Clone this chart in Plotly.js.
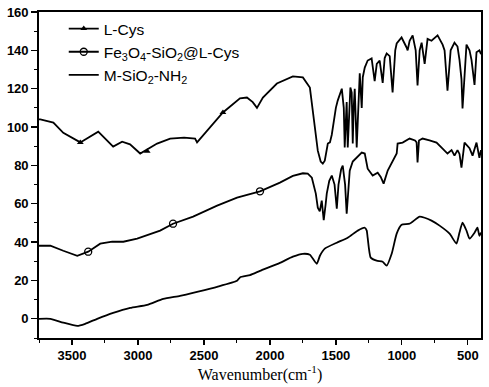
<!DOCTYPE html>
<html>
<head>
<meta charset="utf-8">
<script src="https://cdn.plot.ly/plotly-3.0.1.min.js"></script>
<style>html,body{margin:0;padding:0;background:#fff}#chart{width:489px;height:387px}</style>
</head>
<body>
<div id="chart"></div>
<script>
// ---- data ----
var lcysWn = [3750,3740,3641,3566,3437,3301,3188,3120,3060,2983,2855,2756,2650,2567,2552,2507,2356,2227,2174,2130,2098,2053,1947,1826,1750,1697,1675,1652,1637,1615,1599,1584,1561,1545,1531,1500,1486,1455,1440,1433,1425,1418,1410,1402,1390,1380,1372,1365,1357,1342,1330,1319,1304,1296,1281,1259,1229,1206,1190,1168,1145,1130,1115,1092,1070,1050,1039,1002,964,956,941,918,895,881,865,850,827,805,775,729,691,676,654,630,601,578,563,548,540,525,510,487,472,449,434,412,400];
var lcysT  = [104,104,102.3,97,92,97.6,89.8,92.4,91,86.2,91.4,94,94.5,94,92,95.6,107.6,115,115.4,113,110,115.4,122.7,126.4,125.9,120.6,108.6,95,87.7,82,80.9,82.5,91.4,92,96,110,113.8,120,110,89.3,105,113,89.3,105,120.6,118,91.4,110,120,89.3,115,128,110,126,131,134.7,135.8,124,133,134.7,123,136,138.4,137,118,140,143.6,146.7,141.5,140,145,147.8,140,121.7,140,144,133,146,145,147.8,143,140,119,140,144,142,135,125,109.7,130,143,140,135,122,139,140,138];

var feWn = [3750,3664,3566,3460,3377,3286,3195,3111,3006,2923,2832,2734,2582,2400,2249,2166,2075,1924,1826,1750,1713,1682,1652,1637,1622,1607,1592,1577,1569,1550,1531,1510,1493,1480,1460,1448,1430,1418,1405,1395,1372,1342,1304,1281,1259,1221,1183,1160,1138,1107,1070,1039,1032,994,941,900,888,881,870,843,790,737,691,654,623,601,578,563,548,525,487,464,434,412,400];
var feT  = [38.1,38.1,35.5,32.9,35,39.2,40.2,40.2,41.8,43.9,46,49.6,53.3,59,63.2,64.8,66.5,71,74.5,75.9,75.7,73.6,65.3,58,56,61.6,51.5,60,65.3,72,74.7,70,57.4,70,78,79.9,70,54.8,70,77.3,82,84.1,86.7,86.2,78.3,74.7,76.2,74,70.5,77.3,82.5,86.2,91.4,91.9,94,93,92,81.5,93,94,93,91.9,88.8,86.2,88,85.1,88,86,78.9,91.9,89,85.1,91.9,84,88];

var msWn = [3750,3664,3566,3460,3400,3309,3188,3059,2930,2808,2681,2552,2400,2249,2227,2151,2075,1924,1826,1750,1697,1645,1620,1584,1493,1410,1334,1281,1266,1259,1236,1191,1145,1115,1077,1039,1002,941,865,827,775,714,638,586,563,540,510,487,449,427,412,400];
var msT  = [0,0,-2,-3.7,-2.6,0,3.1,5.7,7.3,10.4,12,14.1,16.7,19.8,21.6,22.8,25,29.2,32.4,33.9,33.4,28.7,33,36.6,39.7,42.3,46,47.5,46,42.3,31.9,30.3,29.8,27.7,33.9,44.4,49,49.6,53.3,52.7,51.2,48.6,44.4,39.2,45,50.1,46,41.8,44.9,47.5,43.3,45];

// symbol positions along the curves
var lcysMarkWn = [3437,2930,2356];
var lcysMarkT  = [92,87.4,107.6];
var feMarkWn = [3377,2734,2075];
var feMarkT  = [35,49.6,66.5];

var seriesNames = ['L-Cys','Fe<sub>3</sub>O<sub>4</sub>-SiO<sub>2</sub>@L-Cys','M-SiO<sub>2</sub>-NH<sub>2</sub>'];
var xTickVals = [3500,3000,2500,2000,1500,1000,500];
var yTickVals = [0,20,40,60,80,100,120,140,160];

function bold(a){return a.map(function(v){return '<b>'+v+'</b>';});}
// interleave nulls so the marker trace draws no connecting lines
function gapped(a){var out=[];a.forEach(function(v,i){if(i)out.push(null);out.push(v);});return out;}

var lineStyle = {color:'#000', width:1.8};
var traces = [
  {x:lcysWn, y:lcysT, mode:'lines', line:lineStyle, showlegend:false, hoverinfo:'skip'},
  {x:gapped(lcysMarkWn), y:gapped(lcysMarkT), mode:'lines+markers', name:seriesNames[0], line:lineStyle,
   marker:{symbol:'triangle-up', size:6, color:'#000'}},
  {x:feWn, y:feT, mode:'lines', line:lineStyle, showlegend:false, hoverinfo:'skip'},
  {x:gapped(feMarkWn), y:gapped(feMarkT), mode:'lines+markers', name:seriesNames[1], line:lineStyle,
   marker:{symbol:'circle-open', size:7, color:'#000', line:{width:1.3,color:'#000'}}},
  {x:msWn, y:msT, mode:'lines', name:seriesNames[2], line:{color:'#000', width:1.8, shape:'spline', smoothing:0.5}}
];

var tickFont = {family:'Liberation Sans, Arial, sans-serif', size:13, color:'#000'};
var layout = {
  width:489, height:387,
  margin:{l:39, r:8, t:12, b:49},
  paper_bgcolor:'#fff', plot_bgcolor:'#fff',
  showlegend:true,
  legend:{x:0.056, y:1.0, xanchor:'left', yanchor:'top', bgcolor:'rgba(0,0,0,0)',
          font:{family:'Liberation Sans, Arial, sans-serif', size:15.5, color:'#000'}, tracegroupgap:0},
  xaxis:{range:[3750,400], autorange:false, tickmode:'array', tickvals:xTickVals, ticktext:bold(xTickVals),
         ticks:'outside', ticklen:5, tickwidth:1.3,
         tickcolor:'#000', showline:true, linecolor:'#000', linewidth:1.8, mirror:true, showgrid:false,
         zeroline:false, tickfont:tickFont,
         minor:{dtick:250, ticks:'outside', ticklen:3, tickcolor:'#000', tickwidth:1, showgrid:false},
         title:{text:'Wavenumber(cm<sup>-1</sup>)', standoff:0,
                font:{family:'Liberation Serif, Times New Roman, serif', size:16, color:'#000'}}},
  yaxis:{range:[-10,160], autorange:false, tickmode:'array', tickvals:yTickVals, ticktext:bold(yTickVals),
         ticks:'outside', ticklen:6, tickwidth:1.3,
         tickcolor:'#000', showline:true, linecolor:'#000', linewidth:1.8, mirror:true, showgrid:false,
         zeroline:false, tickfont:tickFont,
         minor:{dtick:10, ticks:'outside', ticklen:3, tickcolor:'#000', tickwidth:1, showgrid:false}}
};
Plotly.newPlot('chart', traces, layout, {displayModeBar:false, staticPlot:true});
</script>
</body>
</html>
